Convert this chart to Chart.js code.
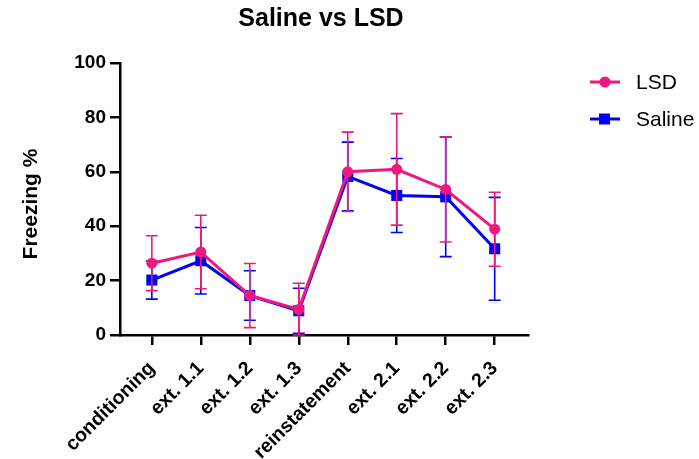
<!DOCTYPE html>
<html><head><meta charset="utf-8">
<script src="https://cdn.jsdelivr.net/npm/chart.js@4.4.1/dist/chart.umd.min.js"></script>
<style>html,body{margin:0;padding:0;background:#fff;}#wrap{width:699px;height:459px;position:relative;}</style>
</head><body><div id="wrap"><canvas id="c" width="699" height="459"></canvas></div>
<script>
const categories = ['conditioning','ext. 1.1','ext. 1.2','ext. 1.3','reinstatement','ext. 2.1','ext. 2.2','ext. 2.3'];
const lsdMean   = [26.4, 30.5, 14.5, 9.4, 60.0, 60.9, 53.5, 38.9];
const lsdErr    = [10.1, 13.5, 11.8, 9.6, 14.6, 20.5, 19.3, 13.6];
const salineMean = [20.2, 27.3, 14.5, 8.9, 58.3, 51.3, 50.8, 31.7];
const salineErr  = [7.0, 12.2, 9.1, 8.3, 12.6, 13.6, 22.0, 18.9];
const yTicks = [0, 20, 40, 60, 80, 100];
const chartTitle = 'Saline vs LSD';
const yTitle = 'Freezing %';

const PINK = '#F0187C', BLUE = '#0000FF';
const FONT = '"Liberation Sans", Arial, sans-serif';

const errorBars = {
  id: 'errorBars',
  beforeDatasetDraw(chart, args) {
    const ds = chart.data.datasets[args.index];
    const err = ds.errors; if (!err) return;
    const ctx = chart.ctx, xs = chart.scales.x, ys = chart.scales.y;
    ctx.save();
    ctx.strokeStyle = ds.borderColor; ctx.lineWidth = 1.6;
    ds.data.forEach((p, i) => {
      const px = xs.getPixelForValue(p.x);
      const t = ys.getPixelForValue(Math.min(100, p.y + err[i]));
      const b = ys.getPixelForValue(Math.max(0, p.y - err[i]));
      ctx.beginPath();
      ctx.moveTo(px, t); ctx.lineTo(px, b);
      ctx.moveTo(px - 6, t); ctx.lineTo(px + 6, t);
      ctx.moveTo(px - 6, b); ctx.lineTo(px + 6, b);
      ctx.stroke();
    });
    ctx.restore();
  }
};

const deco = {
  id: 'deco',
  afterDraw(chart) {
    const ctx = chart.ctx;
    ctx.save();
    ctx.fillStyle = '#000';
    ctx.font = 'bold 25px ' + FONT;
    ctx.textAlign = 'center'; ctx.textBaseline = 'middle';
    ctx.fillText(chartTitle, 321, 19);
    // y axis title
    ctx.save();
    ctx.translate(31, 204);
    ctx.rotate(-Math.PI / 2);
    ctx.font = 'bold 21px ' + FONT;
    ctx.textAlign = 'center'; ctx.textBaseline = 'middle';
    ctx.fillText(yTitle, 0, 0);
    ctx.restore();
    // legend
    const items = chart.data.datasets;
    items.forEach((ds, i) => {
      const y = 82 + i * 37;
      ctx.strokeStyle = ds.borderColor; ctx.lineWidth = 3;
      ctx.beginPath(); ctx.moveTo(590, y); ctx.lineTo(620, y); ctx.stroke();
      ctx.fillStyle = ds.borderColor;
      if (ds.pointStyle === 'rect') { ctx.fillRect(599, y - 5.5, 11, 11); }
      else { ctx.beginPath(); ctx.arc(605, y, 5.5, 0, Math.PI * 2); ctx.fill(); }
      ctx.fillStyle = '#000';
      ctx.font = '21px ' + FONT;
      ctx.textAlign = 'left'; ctx.textBaseline = 'middle';
      ctx.fillText(ds.label, 636, y + 1);
    });
    ctx.restore();
  }
};

new Chart(document.getElementById('c'), {
  type: 'line',
  data: {
    datasets: [
      { label: 'LSD', data: lsdMean.map((v, i) => ({ x: i, y: v })), errors: lsdErr,
        borderColor: PINK, backgroundColor: PINK, borderWidth: 3, pointStyle: 'circle',
        pointRadius: 5.5, pointHoverRadius: 5.5, pointBorderWidth: 0, tension: 0 },
      { label: 'Saline', data: salineMean.map((v, i) => ({ x: i, y: v })), errors: salineErr,
        borderColor: BLUE, backgroundColor: BLUE, borderWidth: 3, pointStyle: 'rect',
        pointRadius: 7.8, pointHoverRadius: 7.8, pointBorderWidth: 0, tension: 0 }
    ]
  },
  options: {
    responsive: false, animation: false, devicePixelRatio: 1,
    layout: { padding: { top: 63, right: 171, bottom: 0, left: 0 } },
    plugins: { legend: { display: false }, title: { display: false }, tooltip: { enabled: false } },
    scales: {
      x: {
        type: 'linear', min: -0.65, max: 7.68,
        afterBuildTicks: s => { s.ticks = categories.map((_, i) => ({ value: i })); },
        afterFit: s => { s.height = 124; },
        ticks: { callback: v => categories[v], minRotation: 45, maxRotation: 45, autoSkip: false,
          color: '#000', font: { family: FONT, size: 19.5, weight: 'bold' }, padding: 12 },
        grid: { display: true, drawOnChartArea: false, drawTicks: true, tickLength: 10, color: '#000', lineWidth: 2.5 },
        border: { display: true, color: '#000', width: 2.5 }
      },
      y: {
        min: 0, max: 100,
        afterBuildTicks: s => { s.ticks = yTicks.map(v => ({ value: v })); },
        afterFit: s => { s.width = 120; },
        ticks: { color: '#000', font: { family: FONT, size: 19, weight: 'bold' }, padding: 4 },
        grid: { display: true, drawOnChartArea: false, drawTicks: true, tickLength: 10, color: '#000', lineWidth: 2.5 },
        border: { display: true, color: '#000', width: 2.5 }
      }
    }
  },
  plugins: [errorBars, deco]
});
</script></body></html>
